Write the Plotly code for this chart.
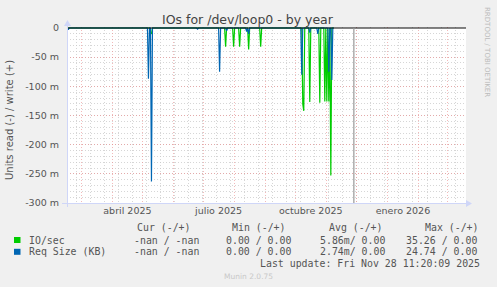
import pandas as pd
import plotly.graph_objects as go

# ---------------- data ----------------
data_start = "2025-02-15"
data_end = "2025-11-08"

io_dates = ["2025-05-09", "2025-05-10", "2025-07-23", "2025-07-31", "2025-08-06",
            "2025-08-15", "2025-08-27", "2025-10-08", "2025-10-09", "2025-10-15",
            "2025-10-25", "2025-10-30", "2025-11-01", "2025-11-03", "2025-11-05"]
io_vals = [-8, -10, -32, -32, -32,
           -37, -32, -130, -142, -127,
           -128, -126, -126, -126, -253]

req_dates = ["2025-02-16", "2025-05-07", "2025-05-10", "2025-06-25", "2025-07-17",
             "2025-07-24", "2025-08-13", "2025-08-15", "2025-10-07", "2025-10-15",
             "2025-10-23", "2025-11-03", "2025-11-06"]
req_vals = [-3, -87, -263, -2, -75,
            -5, -6, -10, -80, -8,
            -10, -75, -89]

y_ticks = [-300, -250, -200, -150, -100, -50, 0]
y_tick_text = ["-300 m", "-250 m", "-200 m", "-150 m", "-100 m", "-50 m", "0"]

month_lines = ["2025-03-01", "2025-04-01", "2025-05-01", "2025-06-01", "2025-07-01",
               "2025-08-01", "2025-09-01", "2025-10-01", "2025-11-01", "2025-12-01",
               "2026-01-01", "2026-02-01", "2026-03-01"]
label_dates = ["2025-04-16", "2025-07-16", "2025-10-16", "2026-01-16"]
label_text = ["abril 2025", "julio 2025", "octubre 2025", "enero 2026"]

now_date = "2025-11-28"
x_range = ["2025-02-14 17:00", "2026-03-19 22:00"]

legend_names = ["IO/sec", "Req Size (KB)"]
cur_vals = ["-nan / -nan", "-nan / -nan"]
min_vals = ["0.00 / 0.00", "0.00 / 0.00"]
avg_vals = ["5.86m/ 0.00", "2.74m/ 0.00"]
max_vals = ["35.26 / 0.00", "24.74 / 0.00"]
colors = ["#00CC00", "#0066B3"]

# ---------------- build series ----------------
days = pd.date_range(data_start, data_end, freq="D")
io = pd.Series(0.0, index=days)
io[pd.to_datetime(io_dates)] = io_vals
req = pd.Series(0.0, index=days)
req[pd.to_datetime(req_dates)] = req_vals

# ---------------- geometry helpers ----------------
W, H = 497, 287
L, R = 67, 466
T, B = 27, 203


def px(x):
    return (x - L) / (R - L)


def py(y):
    return (B - y) / (B - T)


FONT = "DejaVu Sans"
MONO = "DejaVu Sans Mono"
TXT = "#555555"

fig = go.Figure()
fig.add_trace(go.Scatter(x=io.index, y=io.values, mode="lines",
                         line=dict(color=colors[0], width=1.2), showlegend=False,
                         hoverinfo="skip"))
fig.add_trace(go.Scatter(x=req.index, y=req.values, mode="lines",
                         line=dict(color=colors[1], width=1.2), showlegend=False,
                         hoverinfo="skip"))
# invisible trace for label axis
fig.add_trace(go.Scatter(x=[days[0]], y=[None], xaxis="x2", showlegend=False,
                         hoverinfo="skip"))

red = "rgba(235,140,140,0.6)"
gray = "rgba(200,200,200,0.75)"

fig.update_layout(
    width=W, height=H,
    margin=dict(l=L, r=W - R, t=T, b=H - B, pad=0),
    paper_bgcolor="#F0F0F0", plot_bgcolor="#FFFFFF",
    font=dict(family=FONT, size=9.5, color=TXT),
    xaxis=dict(type="date", range=x_range, tickmode="array", tickvals=month_lines,
               showticklabels=False, ticks="", showgrid=True, gridcolor=red,
               griddash="1px,2px", gridwidth=1, zeroline=False, showline=False,
               minor=dict(showgrid=True, tick0="2025-02-24", dtick=14 * 86400000,
                          gridcolor=gray, griddash="1px,2px", gridwidth=1)),
    xaxis2=dict(type="date", range=x_range, overlaying="x", anchor="y", side="bottom",
                tickmode="array", tickvals=label_dates, ticktext=label_text,
                showgrid=False, ticks="", showline=False, zeroline=False,
                tickfont=dict(size=9.5, color=TXT, family=FONT)),
    yaxis=dict(range=[-300, 1.7], tickmode="array", tickvals=y_ticks,
               ticktext=y_tick_text, showgrid=True, gridcolor=red,
               griddash="1px,2px", zeroline=False, showline=False, ticks="",
               ticklabelstandoff=7, tickfont=dict(size=9.5, color=TXT, family=FONT),
               minor=dict(showgrid=True, tick0=0, dtick=10, gridcolor=gray,
                          griddash="1px,2px")),
)

axis_col = "#CFD6F8"
shapes = [
    # zero line
    dict(type="line", xref="paper", yref="y", x0=0, x1=1, y0=0, y1=0,
         line=dict(color="#000000", width=1)),
    # now line
    dict(type="line", xref="x", yref="paper", x0=now_date, x1=now_date, y0=0, y1=py(28),
         line=dict(color="#999999", width=1.2)),
    # axes
    dict(type="line", xref="paper", yref="paper", x0=px(62), x1=px(466), y0=py(203.5),
         y1=py(203.5), line=dict(color=axis_col, width=1)),
    dict(type="line", xref="paper", yref="paper", x0=px(67.5), x1=px(67.5), y0=py(207),
         y1=py(26), line=dict(color=axis_col, width=1)),
    dict(type="path", xref="paper", yref="paper",
         path=f"M {px(466)} {py(200)} L {px(472)} {py(203.5)} L {px(466)} {py(207)} Z",
         fillcolor=axis_col, line=dict(width=0)),
    dict(type="path", xref="paper", yref="paper",
         path=f"M {px(64)} {py(26)} L {px(67.5)} {py(20)} L {px(71)} {py(26)} Z",
         fillcolor=axis_col, line=dict(width=0)),
]
# legend boxes
for i, c in enumerate(colors):
    yc = 240 + i * 11.8
    shapes.append(dict(type="rect", xref="paper", yref="paper", x0=px(14), x1=px(20.5),
                       y0=py(yc + 3), y1=py(yc - 3), fillcolor=c, line=dict(width=0)))
fig.update_layout(shapes=shapes)


def ann(text, x, y, size, color=TXT, family=FONT, xanchor="left", **kw):
    return dict(text=text, x=px(x), y=py(y), xref="paper", yref="paper",
                xanchor=xanchor, yanchor="middle", showarrow=False,
                font=dict(size=size, color=color, family=family), **kw)


anns = [
    ann("IOs for /dev/loop0 - by year", 248, 19, 12.5, color="#444444", xanchor="center"),
    ann("Units read (-) / write (+)", 10, 120, 10, xanchor="center", textangle=-90),
    ann("RRDTOOL / TOBI OETIKER", 487, 52, 7, color="#BBBBBB", xanchor="center",
        textangle=90),
    ann("Munin 2.0.75", 248, 276, 7.5, color="#C8C8C8", xanchor="center"),
    ann("Cur (-/+)", 135, 227.3, 9.9, family=MONO),
    ann("Min (-/+)", 230, 227.3, 9.9, family=MONO),
    ann("Avg (-/+)", 326.7, 227.3, 9.9, family=MONO),
    ann("Max (-/+)", 422.7, 227.3, 9.9, family=MONO),
    ann("Last update: Fri Nov 28 11:20:09 2025", 482.3, 263, 9.9, family=MONO,
        xanchor="right"),
]
for i in range(2):
    yr = 240 + i * 11.8
    anns += [
        ann(legend_names[i], 27, yr, 9.9, family=MONO),
        ann(cur_vals[i], 131.7, yr, 9.9, family=MONO),
        ann(min_vals[i], 224, yr, 9.9, family=MONO),
        ann(avg_vals[i], 317.7, yr, 9.9, family=MONO),
        ann(max_vals[i], 404.3, yr, 9.9, family=MONO),
    ]
fig.update_layout(annotations=anns)

fig.write_html("out.html")
